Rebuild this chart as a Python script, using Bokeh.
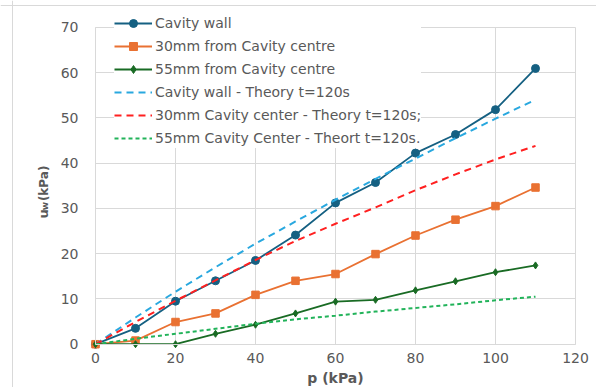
from math import pi
from bokeh.plotting import figure
from bokeh.models import Range1d, FixedTicker, Legend, LegendItem, Label, Span
from bokeh.embed import file_html
from bokeh.resources import INLINE

# ---- data ----
p_kpa = [0, 10, 20, 30, 40, 50, 60, 70, 80, 90, 100, 110]
cavity_wall = [0, 3.5, 9.5, 14.0, 18.5, 24.1, 31.2, 35.7, 42.2, 46.3, 51.8, 60.9]
mm30_centre = [0, 0.8, 4.9, 6.8, 10.9, 14.0, 15.5, 19.9, 24.0, 27.5, 30.5, 34.6]
mm55_centre = [0, 0, 0, 2.3, 4.3, 6.8, 9.4, 9.8, 11.9, 13.9, 15.9, 17.4]
theory_wall = [0, 5.9, 11.6, 17.0, 22.2, 27.1, 31.9, 36.5, 41.0, 45.5, 49.8, 54.0]
theory_30 = [0, 4.9, 9.6, 14.1, 18.6, 22.8, 26.6, 30.2, 34.0, 37.5, 40.8, 43.8]
theory_55 = [0, 1.2, 2.3, 3.4, 4.5, 5.5, 6.3, 7.2, 8.0, 8.8, 9.7, 10.5]
x_ticks = [0, 20, 40, 60, 80, 100, 120]
y_ticks = [0, 10, 20, 30, 40, 50, 60, 70]
series_names = [
    "Cavity wall",
    "30mm from Cavity centre",
    "55mm from Cavity centre",
    "Cavity wall - Theory t=120s",
    "30mm Cavity center - Theory t=120s;",
    "55mm Cavity Center - Theort t=120s.",
]

FONT = "DejaVu Sans"
GREY = "#595959"
GRID = "#D9D9D9"

# frame covers the whole canvas; axes are pinned at x=0 / y=0
p = figure(width=596, height=387, output_backend="svg", toolbar_location=None,
           x_range=Range1d(-23.75, 125.25), y_range=Range1d(-9.56, 75.9),
           min_border=0)
p.background_fill_color = "white"
p.border_fill_color = "white"
p.outline_line_color = None

for ax in (p.xaxis[0], p.yaxis[0]):
    ax.axis_line_color = GRID
    ax.major_tick_line_color = None
    ax.minor_tick_line_color = None
    ax.major_label_text_font = FONT
    ax.major_label_text_font_size = "14px"
    ax.major_label_text_color = GREY
p.xaxis.fixed_location = 0
p.yaxis.fixed_location = 0
p.xaxis.bounds = (0, 120)
p.yaxis.bounds = (0, 70)
p.xaxis.ticker = FixedTicker(ticks=x_ticks)
p.yaxis.ticker = FixedTicker(ticks=y_ticks)
p.xaxis.major_label_standoff = 3
p.yaxis.major_label_standoff = 11
p.xaxis.axis_label = "p (kPa)"
p.xaxis.axis_label_text_font = FONT
p.xaxis.axis_label_text_font_size = "14px"
p.xaxis.axis_label_text_font_style = "bold"
p.xaxis.axis_label_text_color = GREY
p.xaxis.axis_label_standoff = 3

p.xgrid.grid_line_color = GRID
p.ygrid.grid_line_color = GRID
p.xgrid.cross_bounds = (0, 70)
p.ygrid.cross_bounds = (0, 120)

# outer chart border (light grey, left and top edges)
p.add_layout(Span(location=-20.75, dimension="height", line_color=GRID, line_width=1))
p.add_layout(Span(location=74.79, dimension="width", line_color=GRID, line_width=1))

# measured series
r1l = p.line(p_kpa, cavity_wall, line_color="#156082", line_width=1.8)
r1m = p.scatter(p_kpa, cavity_wall, marker="circle", size=8, fill_color="#156082", line_color="#156082")
r2l = p.line(p_kpa, mm30_centre, line_color="#E97132", line_width=1.8)
r2m = p.scatter(p_kpa, mm30_centre, marker="square", size=7.5, fill_color="#E97132", line_color="#E97132")
r3l = p.line(p_kpa, mm55_centre, line_color="#196B24", line_width=1.8)
r3m = p.scatter(p_kpa, mm55_centre, marker="diamond", size=7, fill_color="#196B24", line_color="#196B24")

# theory series
r4 = p.line(p_kpa, theory_wall, line_color="#29A8DF", line_width=2, line_dash="7 5")
r5 = p.line(p_kpa, theory_30, line_color="#FF2020", line_width=2, line_dash="7 5")
r6 = p.line(p_kpa, theory_55, line_color="#22B35A", line_width=2, line_dash="4 3")

legend = Legend(items=[
    LegendItem(label=series_names[0], renderers=[r1l, r1m]),
    LegendItem(label=series_names[1], renderers=[r2l, r2m]),
    LegendItem(label=series_names[2], renderers=[r3l, r3m]),
    LegendItem(label=series_names[3], renderers=[r4]),
    LegendItem(label=series_names[4], renderers=[r5]),
    LegendItem(label=series_names[5], renderers=[r6]),
], location=(114, 239))
legend.label_text_font = FONT
legend.label_text_font_size = "14px"
legend.label_text_color = GREY
legend.background_fill_color = "white"
legend.background_fill_alpha = 1
legend.border_line_color = None
legend.padding = 0
legend.margin = 0
legend.spacing = 3
legend.glyph_width = 38
legend.glyph_height = 20
legend.label_height = 20
legend.label_standoff = 3
p.add_layout(legend, "center")

# y-axis title with subscript
p.add_layout(Label(x=-13, y=27.75, text="u", angle=pi / 2, text_font=FONT, text_font_size="13px",
                   text_font_style="bold", text_color=GREY, text_baseline="alphabetic", text_align="left"))
p.add_layout(Label(x=-12.6, y=29.6, text="w", angle=pi / 2, text_font=FONT, text_font_size="9px",
                   text_font_style="bold", text_color=GREY, text_baseline="alphabetic", text_align="left"))
p.add_layout(Label(x=-13, y=31.6, text="(kPa)", angle=pi / 2, text_font=FONT, text_font_size="12px",
                   text_font_style="bold", text_color=GREY, text_baseline="alphabetic", text_align="left"))

open("out.html", "w").write(file_html(p, INLINE))
